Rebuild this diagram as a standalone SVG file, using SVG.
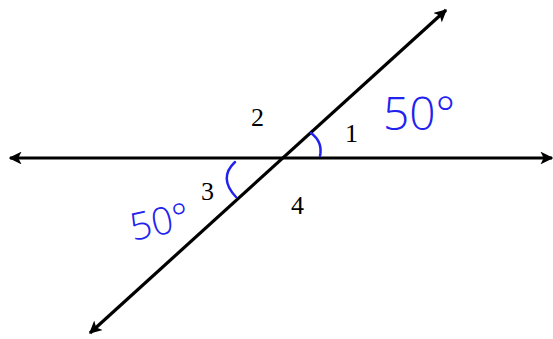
<svg xmlns="http://www.w3.org/2000/svg" width="553" height="339" viewBox="0 0 553 339">
<defs>
<style>
.ln{stroke:#000;stroke-width:3.2;fill:none}
.lbl{font-family:"Liberation Serif","Times New Roman",serif;font-size:26px;fill:#000}
.hw{font-family:"Open Sans","Liberation Sans",Arial,sans-serif;font-weight:300;fill:#2222ee}
.arc{stroke:#2222ee;stroke-width:2.5;fill:none;stroke-linecap:round}
</style>
<marker id="ah" viewBox="0 0 10 10" refX="9" refY="5" markerWidth="4" markerHeight="4" orient="auto-start-reverse" markerUnits="strokeWidth">
<path d="M0,0 L10,5 L0,10 L2.5,5 Z" fill="#000"/>
</marker>
</defs>
<rect width="553" height="339" fill="#fff"/>
<g id="connectors">
<line class="ln" x1="10" y1="158" x2="552" y2="158" marker-start="url(#ah)" marker-end="url(#ah)"/>
<line class="ln" x1="90" y1="333" x2="446" y2="10" marker-start="url(#ah)" marker-end="url(#ah)"/>
</g>
<g id="angle1">
<path class="arc" d="M311,133 Q323,142 320,156"/>
<text class="lbl" x="345" y="142">1</text>
</g>
<g id="angle2">
<text class="lbl" x="251" y="126">2</text>
</g>
<g id="angle3">
<path class="arc" d="M235,162 Q218,178 236,197"/>
<text class="lbl" x="201" y="200">3</text>
</g>
<g id="angle4">
<text class="lbl" x="291" y="214">4</text>
</g>
<g id="label50a">
<text class="hw" x="383" y="130" font-size="46">50°</text>
</g>
<g id="label50b">
<text class="hw" x="133" y="241" font-size="38" transform="rotate(-12 133 241)">50°</text>
</g>
</svg>
